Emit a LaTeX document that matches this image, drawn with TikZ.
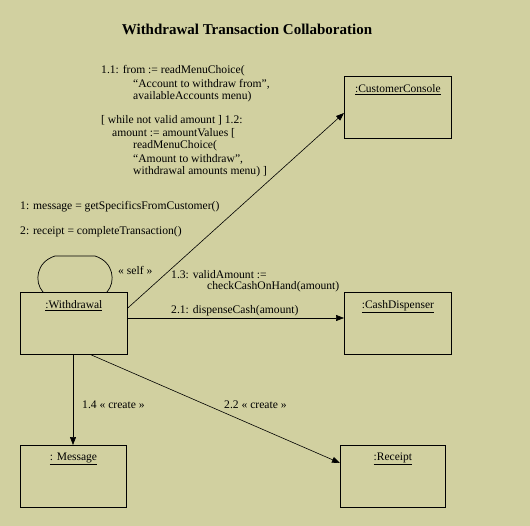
\documentclass[tikz,border=0pt]{standalone}
\usepackage{fontspec}
\setmainfont{Liberation Serif}
\usetikzlibrary{arrows.meta}
\definecolor{bg}{RGB}{209,208,160}
\tikzset{
  obj/.style={draw, line width=0.8pt, anchor=north west, minimum width=#1, minimum height=62pt, inner sep=0pt},
  objname/.style={anchor=north, inner sep=0pt, font=\fontsize{11.5}{13}\selectfont},
  lbl/.style={anchor=west, inner sep=0pt, font=\fontsize{11.6}{13}\selectfont},
  msg/.style={draw, line width=0.6pt, -{Triangle[length=8pt,width=6pt]}}
}
\begin{document}
\begin{tikzpicture}[x=1pt,y=-1pt]
\fill[bg] (0,0) rectangle (530,526);
\useasboundingbox (0,0) rectangle (530,526);
\node[font=\fontsize{15}{17}\selectfont\bfseries] (title) at (247,29) {Withdrawal Transaction Collaboration};
% objects
\node[obj=107pt] (wd) at (20,292) {};
\node[obj=107pt] (cc) at (344,76) {};
\node[obj=107pt] (cd) at (344,292) {};
\node[obj=106pt] (ms) at (20,445) {};
\node[obj=105pt] (rc) at (340,445) {};
\node[objname] (wdn) at ([yshift=-8pt]wd.north) {\underline{:Withdrawal}};
\node[objname] (ccn) at ([yshift=-8pt]cc.north) {\underline{:CustomerConsole}};
\node[objname] (cdn) at ([yshift=-8pt]cd.north) {\underline{:CashDispenser}};
\node[objname] (msn) at ([yshift=-8pt]ms.north) {\underline{: Message}};
\node[objname] (rcn) at ([yshift=-8pt]rc.north) {\underline{:Receipt}};
% self loop
\draw[line width=0.7pt] ([xshift=23pt]wd.north west) .. controls (34,282) and (36,262) .. (55,256) -- (95,256) .. controls (114,262) and (116,282) .. ([xshift=87pt]wd.north west);
% connectors
\draw[msg] ([yshift=-16pt]wd.north east) -- ([yshift=-37pt]cc.north west);
\draw[msg] ([yshift=-26pt]wd.north east) -- ([yshift=-26pt]cd.north west);
\draw[msg] ([xshift=53pt]wd.south west) -- ([xshift=53pt]ms.north west);
\draw[msg] ([xshift=71pt]wd.south west) -- ([yshift=-18pt]rc.north west);
% labels
\node[lbl] (l11a) at (101,71) {1.1: from := readMenuChoice(};
\node[lbl] (l11b) at (133,84) {“Account to withdraw from”,};
\node[lbl] (l11c) at (133,97) {availableAccounts menu)};
\node[lbl] (l12a) at (101,120) {[ while not valid amount ] 1.2:};
\node[lbl] (l12b) at (112,133) {amount := amountValues [};
\node[lbl] (l12c) at (133,146) {readMenuChoice(};
\node[lbl] (l12d) at (133,159) {“Amount to withdraw”,};
\node[lbl] (l12e) at (133,172) {withdrawal amounts menu) ]};
\node[lbl] (l1) at (20,207) {1: message = getSpecificsFromCustomer()};
\node[lbl] (l2) at (20,232) {2: receipt = completeTransaction()};
\node[lbl] (lself) at (118,270) {« self »};
\node[lbl] (l13a) at (171,275) {1.3: validAmount :=};
\node[lbl] (l13b) at (207,287) {checkCashOnHand(amount)};
\node[lbl] (l21) at (171,311) {2.1: dispenseCash(amount)};
\node[lbl] (l14) at (82,405) {1.4 « create »};
\node[lbl] (l22) at (224,405) {2.2 « create »};
\end{tikzpicture}
\end{document}
